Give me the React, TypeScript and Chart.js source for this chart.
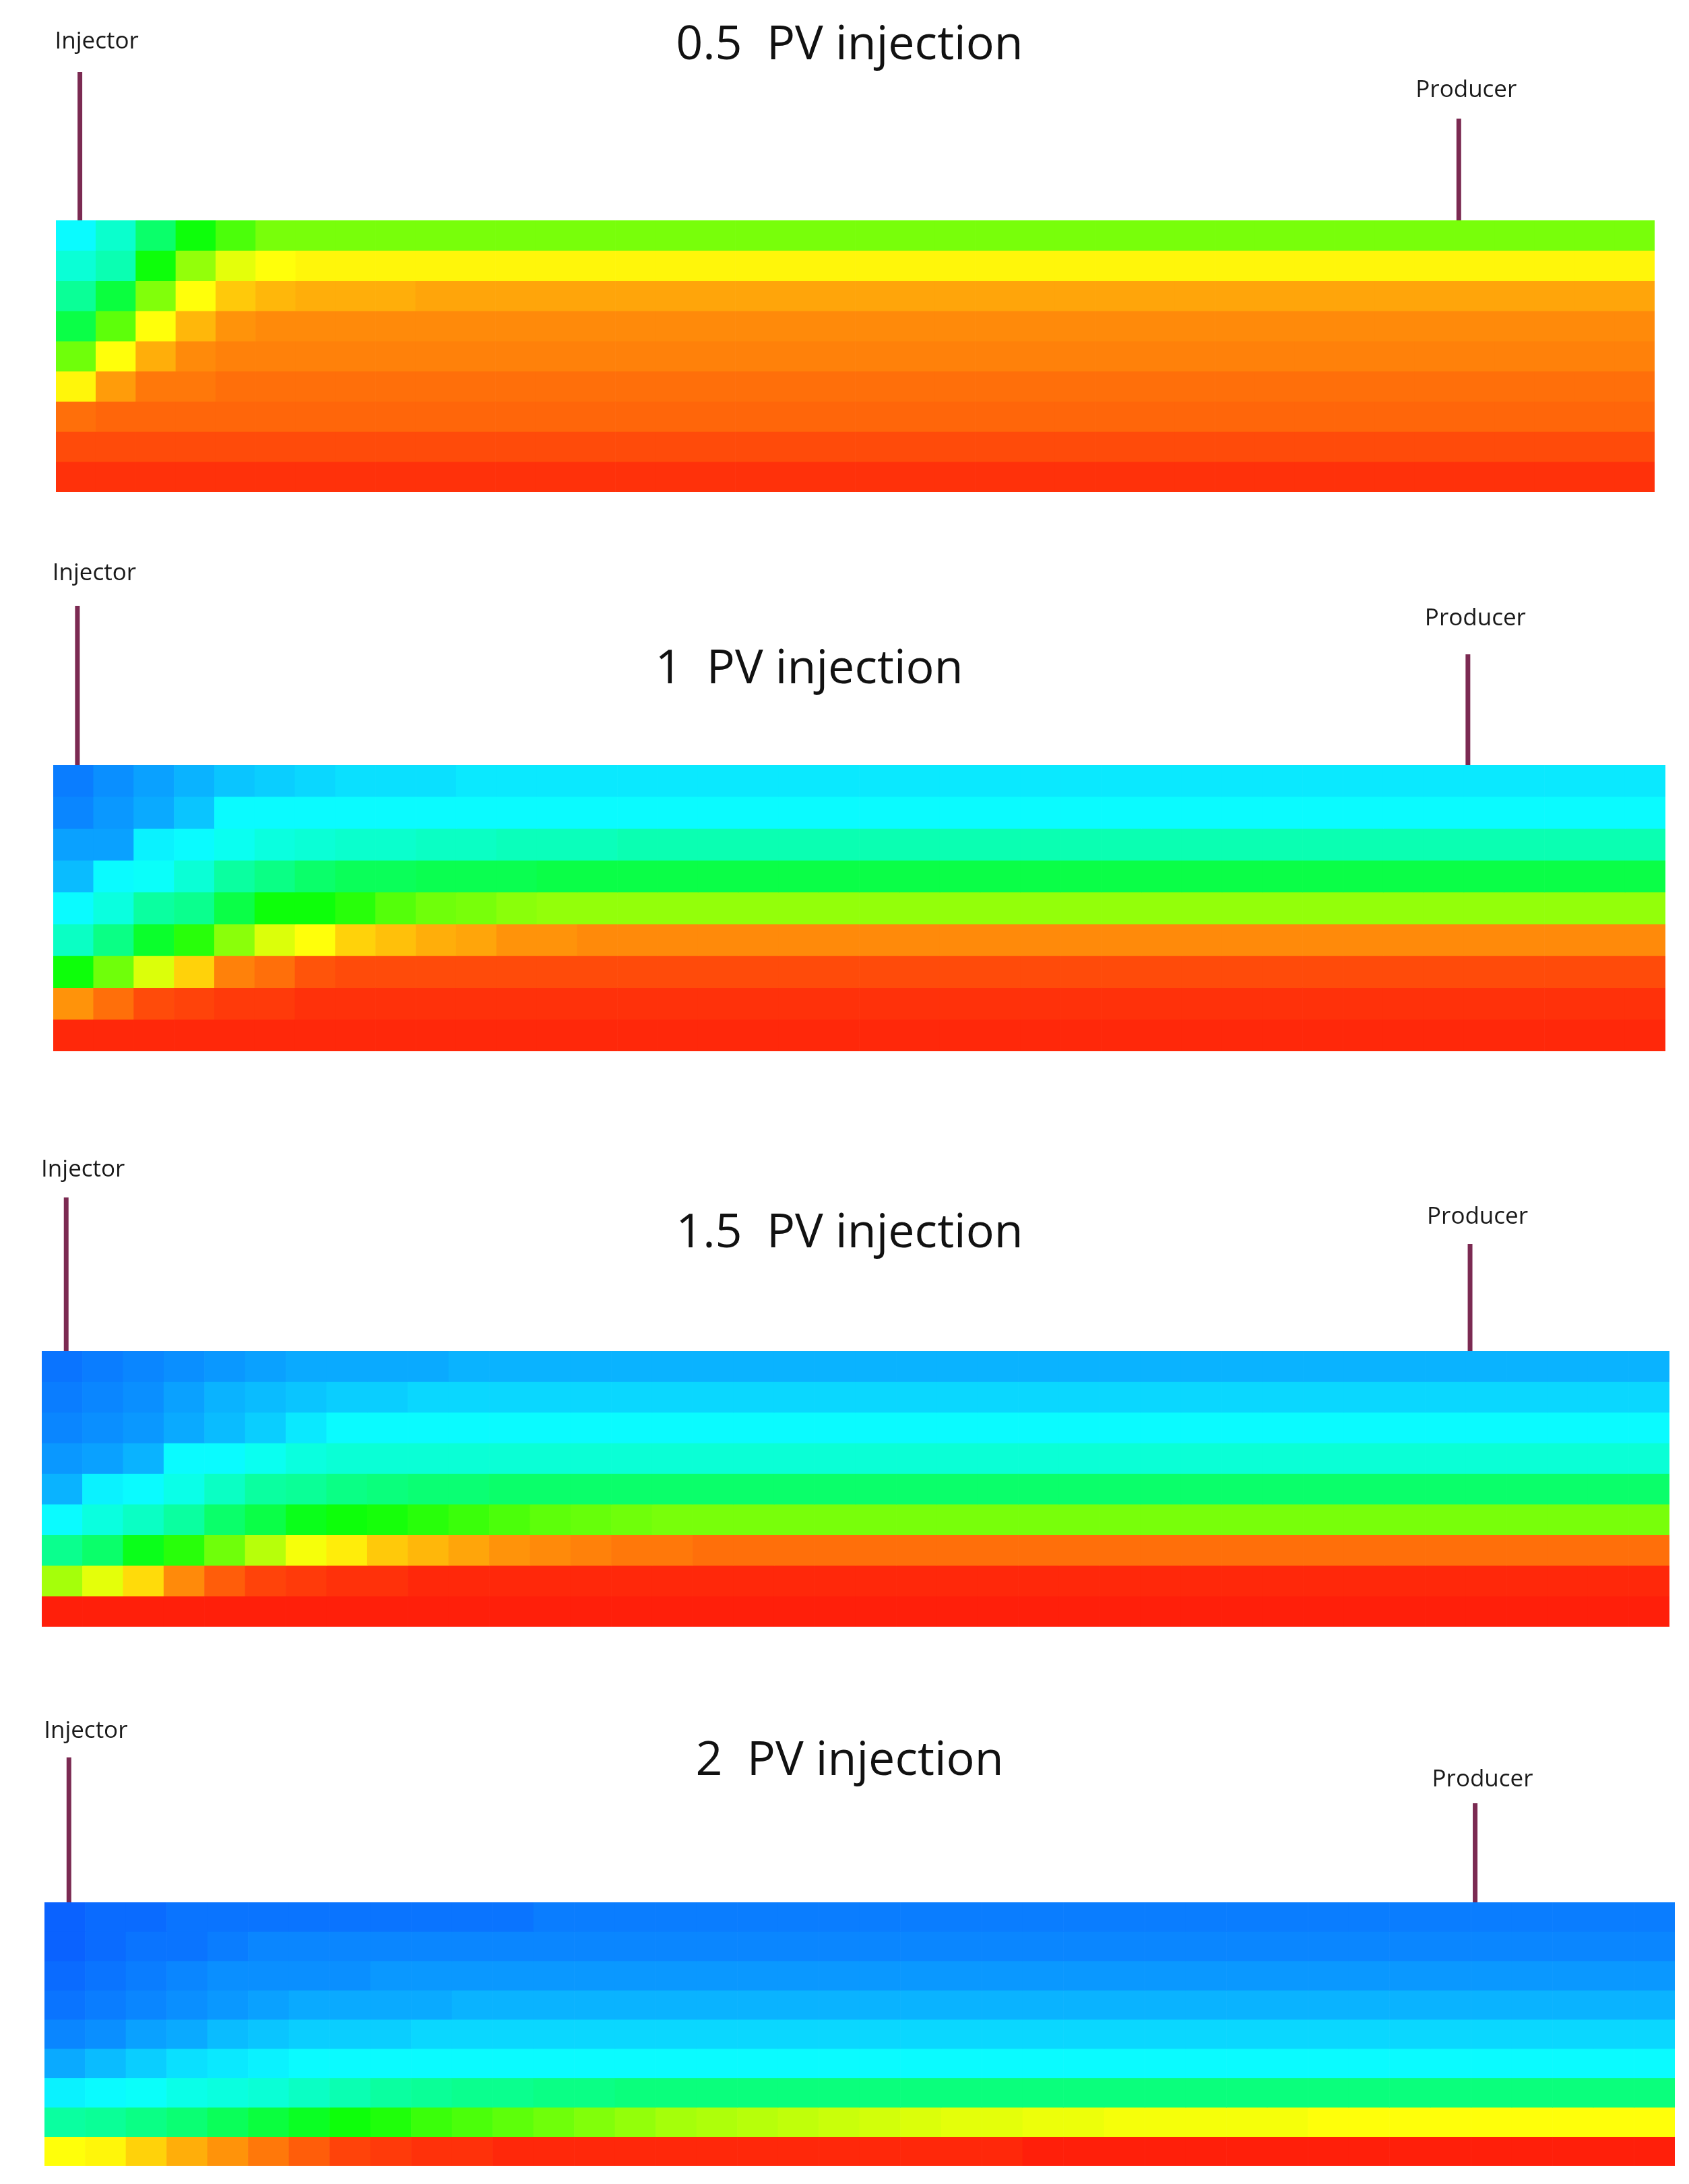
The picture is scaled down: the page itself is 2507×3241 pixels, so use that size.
import React, { useEffect, useRef } from "react";
import { Chart, registerables } from "chart.js";

Chart.register(...registerables);

// ---------------- DATA ----------------
// 40 grid columns (injector on the left, producer on the right), 9 layers (top to bottom)
const COLUMNS: string[] = [
  "1", "2", "3", "4", "5", "6", "7", "8", "9", "10",
  "11", "12", "13", "14", "15", "16", "17", "18", "19", "20",
  "21", "22", "23", "24", "25", "26", "27", "28", "29", "30",
  "31", "32", "33", "34", "35", "36", "37", "38", "39", "40",
];

const TITLES: string[] = ["0.5  PV injection", "1  PV injection", "1.5  PV injection", "2  PV injection"];

// well locations, in grid-cell units from the left edge of the model
const INJECTOR_POS = 0.6;
const PRODUCER_POS = 35.1;

// normalized property value per cell (0 = blue, 100 = red), rows = layers top -> bottom
const PV05_ROWS: number[][] = [
  [20, 26, 37, 48, 55, 60, 60, 60, 60, 60, 60, 60, 60, 60, 60, 60, 60, 60, 60, 60, 60, 60, 60, 60, 60, 60, 60, 60, 60, 60, 60, 60, 60, 60, 60, 60, 60, 60, 60, 60],
  [25, 29, 48, 63, 72, 75, 76, 76, 76, 76, 76, 76, 76, 76, 76, 76, 76, 76, 76, 76, 76, 76, 76, 76, 76, 76, 76, 76, 76, 76, 76, 76, 76, 76, 76, 76, 76, 76, 76, 76],
  [32, 42, 61, 75, 81, 83, 84, 84, 84, 85, 85, 85, 85, 85, 85, 85, 85, 85, 85, 85, 85, 85, 85, 85, 85, 85, 85, 85, 85, 85, 85, 85, 85, 85, 85, 85, 85, 85, 85, 85],
  [41, 57, 75, 83, 87, 88, 88, 88, 88, 88, 88, 88, 88, 88, 88, 88, 88, 88, 88, 88, 88, 88, 88, 88, 88, 88, 88, 88, 88, 88, 88, 88, 88, 88, 88, 88, 88, 88, 88, 88],
  [59, 75, 84, 88, 89, 89, 89, 89, 89, 89, 89, 89, 89, 89, 89, 89, 89, 89, 89, 89, 89, 89, 89, 89, 89, 89, 89, 89, 89, 89, 89, 89, 89, 89, 89, 89, 89, 89, 89, 89],
  [76, 86, 90, 90, 91, 91, 91, 91, 91, 91, 91, 91, 91, 91, 91, 91, 91, 91, 91, 91, 91, 91, 91, 91, 91, 91, 91, 91, 91, 91, 91, 91, 91, 91, 91, 91, 91, 91, 91, 91],
  [91, 92, 92, 92, 92, 92, 92, 92, 92, 92, 92, 92, 92, 92, 92, 92, 92, 92, 92, 92, 92, 92, 92, 92, 92, 92, 92, 92, 92, 92, 92, 92, 92, 92, 92, 92, 92, 92, 92, 92],
  [95, 95, 95, 95, 95, 95, 95, 95, 95, 95, 95, 95, 95, 95, 95, 95, 95, 95, 95, 95, 95, 95, 95, 95, 95, 95, 95, 95, 95, 95, 95, 95, 95, 95, 95, 95, 95, 95, 95, 95],
  [98, 98, 98, 98, 98, 98, 98, 98, 98, 98, 98, 98, 98, 98, 98, 98, 98, 98, 98, 98, 98, 98, 98, 98, 98, 98, 98, 98, 98, 98, 98, 98, 98, 98, 98, 98, 98, 98, 98, 98],
];

const PV1_ROWS: number[][] = [
  [6, 8, 10, 12, 14, 15, 16, 17, 17, 17, 18, 18, 18, 18, 18, 18, 18, 18, 18, 18, 18, 18, 18, 18, 18, 18, 18, 18, 18, 18, 18, 18, 18, 18, 18, 18, 18, 18, 18, 18],
  [7, 9, 11, 14, 20, 20, 20, 20, 20, 20, 20, 20, 20, 20, 20, 20, 20, 20, 20, 20, 20, 20, 20, 20, 20, 20, 20, 20, 20, 20, 20, 20, 20, 20, 20, 20, 20, 20, 20, 20],
  [10, 10, 19, 20, 22, 24, 25, 26, 26, 27, 27, 28, 28, 28, 29, 29, 29, 29, 29, 29, 29, 29, 29, 29, 29, 29, 29, 29, 29, 29, 29, 29, 29, 29, 29, 29, 29, 29, 29, 29],
  [13, 20, 21, 25, 31, 34, 37, 39, 39, 40, 40, 40, 41, 41, 41, 41, 41, 41, 41, 41, 41, 41, 41, 41, 41, 41, 41, 41, 41, 41, 41, 41, 41, 41, 41, 41, 41, 41, 41, 41],
  [20, 24, 31, 33, 41, 48, 48, 51, 56, 59, 60, 62, 63, 63, 63, 63, 63, 63, 63, 63, 63, 63, 63, 63, 63, 63, 63, 63, 63, 63, 63, 63, 63, 63, 63, 63, 63, 63, 63, 63],
  [27, 34, 44, 51, 62, 71, 75, 80, 82, 84, 85, 87, 87, 88, 88, 88, 88, 88, 88, 88, 88, 88, 88, 88, 88, 88, 88, 88, 88, 88, 88, 88, 88, 88, 88, 88, 88, 88, 88, 88],
  [48, 59, 71, 80, 89, 91, 94, 95, 95, 95, 95, 95, 95, 95, 95, 95, 95, 95, 95, 95, 95, 95, 95, 95, 95, 95, 95, 95, 95, 95, 95, 95, 95, 95, 95, 95, 95, 95, 95, 95],
  [87, 91, 95, 96, 97, 97, 98, 98, 98, 98, 98, 98, 98, 98, 98, 98, 98, 98, 98, 98, 98, 98, 98, 98, 98, 98, 98, 98, 98, 98, 98, 98, 98, 98, 98, 98, 98, 98, 98, 98],
  [99, 99, 99, 99, 99, 99, 99, 99, 99, 99, 99, 99, 99, 99, 99, 99, 99, 99, 99, 99, 99, 99, 99, 99, 99, 99, 99, 99, 99, 99, 99, 99, 99, 99, 99, 99, 99, 99, 99, 99],
];

const PV15_ROWS: number[][] = [
  [5, 6, 7, 8, 9, 10, 11, 11, 11, 11, 12, 12, 12, 12, 12, 12, 12, 12, 12, 12, 12, 12, 12, 12, 12, 12, 12, 12, 12, 12, 12, 12, 12, 12, 12, 12, 12, 12, 12, 12],
  [6, 7, 8, 10, 12, 13, 14, 15, 15, 16, 16, 16, 16, 16, 16, 16, 16, 16, 16, 16, 16, 16, 16, 16, 16, 16, 16, 16, 16, 16, 16, 16, 16, 16, 16, 16, 16, 16, 16, 16],
  [7, 8, 9, 11, 13, 15, 18, 20, 20, 20, 20, 20, 20, 20, 20, 20, 20, 20, 20, 20, 20, 20, 20, 20, 20, 20, 20, 20, 20, 20, 20, 20, 20, 20, 20, 20, 20, 20, 20, 20],
  [9, 10, 12, 20, 20, 22, 24, 25, 25, 25, 25, 25, 25, 25, 25, 25, 25, 25, 25, 25, 25, 25, 25, 25, 25, 25, 25, 25, 25, 25, 25, 25, 25, 25, 25, 25, 25, 25, 25, 25],
  [12, 19, 20, 23, 27, 31, 32, 34, 35, 36, 36, 37, 37, 37, 37, 37, 37, 37, 37, 37, 37, 37, 37, 37, 37, 37, 37, 37, 37, 37, 37, 37, 37, 37, 37, 37, 37, 37, 37, 37],
  [20, 24, 27, 31, 37, 41, 46, 48, 49, 51, 53, 55, 57, 58, 59, 60, 60, 60, 60, 60, 60, 60, 60, 60, 60, 60, 60, 60, 60, 60, 60, 60, 60, 60, 60, 60, 60, 60, 60, 60],
  [33, 37, 46, 51, 59, 67, 74, 77, 81, 83, 85, 87, 88, 89, 90, 90, 91, 91, 91, 91, 91, 91, 91, 91, 91, 91, 91, 91, 91, 91, 91, 91, 91, 91, 91, 91, 91, 91, 91, 91],
  [65, 72, 79, 88, 93, 96, 97, 98, 98, 99, 99, 99, 99, 99, 99, 99, 99, 99, 99, 99, 99, 99, 99, 99, 99, 99, 99, 99, 99, 99, 99, 99, 99, 99, 99, 99, 99, 99, 99, 99],
  [100, 100, 100, 100, 100, 100, 100, 100, 100, 100, 100, 100, 100, 100, 100, 100, 100, 100, 100, 100, 100, 100, 100, 100, 100, 100, 100, 100, 100, 100, 100, 100, 100, 100, 100, 100, 100, 100, 100, 100],
];

const PV2_ROWS: number[][] = [
  [3, 4, 4, 5, 5, 5, 5, 5, 5, 5, 5, 5, 6, 6, 6, 6, 6, 6, 6, 6, 6, 6, 6, 6, 6, 6, 6, 6, 6, 6, 6, 6, 6, 6, 6, 6, 6, 6, 6, 6],
  [3, 4, 5, 5, 6, 7, 7, 7, 7, 7, 7, 7, 7, 7, 7, 7, 7, 7, 7, 7, 7, 7, 7, 7, 7, 7, 7, 7, 7, 7, 7, 7, 7, 7, 7, 7, 7, 7, 7, 7],
  [4, 5, 6, 7, 8, 8, 8, 8, 9, 9, 9, 9, 9, 9, 9, 9, 9, 9, 9, 9, 9, 9, 9, 9, 9, 9, 9, 9, 9, 9, 9, 9, 9, 9, 9, 9, 9, 9, 9, 9],
  [5, 6, 7, 8, 9, 10, 11, 11, 11, 11, 12, 12, 12, 12, 12, 12, 12, 12, 12, 12, 12, 12, 12, 12, 12, 12, 12, 12, 12, 12, 12, 12, 12, 12, 12, 12, 12, 12, 12, 12],
  [7, 8, 10, 11, 13, 14, 15, 15, 15, 16, 16, 16, 16, 16, 16, 16, 16, 16, 16, 16, 16, 16, 16, 16, 16, 16, 16, 16, 16, 16, 16, 16, 16, 16, 16, 16, 16, 16, 16, 16],
  [11, 13, 15, 17, 18, 19, 20, 20, 20, 20, 20, 20, 20, 20, 20, 20, 20, 20, 20, 20, 20, 20, 20, 20, 20, 20, 20, 20, 20, 20, 20, 20, 20, 20, 20, 20, 20, 20, 20, 20],
  [19, 20, 21, 23, 24, 25, 27, 29, 31, 32, 33, 33, 34, 34, 35, 35, 35, 35, 35, 35, 35, 35, 35, 35, 35, 35, 35, 35, 35, 35, 35, 35, 35, 35, 35, 35, 35, 35, 35, 35],
  [31, 32, 34, 36, 39, 42, 45, 48, 50, 53, 55, 57, 59, 61, 63, 65, 66, 67, 68, 69, 70, 71, 72, 72, 73, 73, 74, 74, 74, 74, 74, 75, 75, 75, 75, 75, 75, 75, 75, 75],
  [75, 76, 80, 84, 87, 90, 93, 96, 97, 98, 98, 99, 99, 99, 99, 99, 99, 99, 99, 99, 99, 99, 99, 99, 100, 100, 100, 100, 100, 100, 100, 100, 100, 100, 100, 100, 100, 100, 100, 100],
];

const PANEL_ROWS: number[][][] = [PV05_ROWS, PV1_ROWS, PV15_ROWS, PV2_ROWS];

// ---------------- LAYOUT / STYLE ----------------
const PAGE_W = 2507;
const PAGE_H = 3241;

type PanelLayout = {
  top: number; height: number;
  pad: { left: number; right: number; top: number; bottom: number };
  titleX: number; titleY: number;
  injLabelY: number; injLineTop: number;
  prodLabelY: number; prodLineTop: number;
};

const LAYOUTS: PanelLayout[] = [
  { top: 0, height: 790, pad: { left: 83, right: 51, top: 327, bottom: 60 }, titleX: 1261, titleY: 68, injLabelY: 62, injLineTop: 107, prodLabelY: 134, prodLineTop: 176 },
  { top: 790, height: 850, pad: { left: 79, right: 35, top: 345, bottom: 80 }, titleX: 1201, titleY: 204, injLabelY: 61, injLineTop: 109, prodLabelY: 128, prodLineTop: 181 },
  { top: 1640, height: 830, pad: { left: 62, right: 29, top: 365, bottom: 56 }, titleX: 1261, titleY: 191, injLabelY: 96, injLineTop: 137, prodLabelY: 166, prodLineTop: 206 },
  { top: 2470, height: 771, pad: { left: 66, right: 21, top: 353, bottom: 27 }, titleX: 1261, titleY: 144, injLabelY: 99, injLineTop: 138, prodLabelY: 171, prodLineTop: 206 },
];

const colorFor = (v: number) => `hsl(${225 - 2.2 * v}, 100%, 52%)`;

function Panel({ index }: { index: number }) {
  const ref = useRef<HTMLCanvasElement | null>(null);
  const lay = LAYOUTS[index];

  useEffect(() => {
    const rows = PANEL_ROWS[index];
    const title = TITLES[index];

    const wellPlugin = {
      id: "wells",
      afterDraw(chart: any) {
        const { ctx, chartArea, scales } = chart;
        const px = (pos: number) => scales.x.getPixelForValue(pos - 0.5);
        ctx.save();
        ctx.textAlign = "center";
        ctx.textBaseline = "middle";
        ctx.fillStyle = "#111111";
        ctx.font = '70px "Open Sans"';
        ctx.fillText(title, lay.titleX, lay.titleY);

        const wells = [
          { name: "Injector", pos: INJECTOR_POS, labelY: lay.injLabelY, lineTop: lay.injLineTop, dx: 25 },
          { name: "Producer", pos: PRODUCER_POS, labelY: lay.prodLabelY, lineTop: lay.prodLineTop, dx: 11 },
        ];
        for (const w of wells) {
          const wx = px(w.pos);
          ctx.strokeStyle = "#7b2a52";
          ctx.lineWidth = 7;
          ctx.lineCap = "butt";
          ctx.beginPath();
          ctx.moveTo(wx, w.lineTop);
          ctx.lineTo(wx, chartArea.top);
          ctx.stroke();
          ctx.fillStyle = "#1a1a1a";
          ctx.font = '35px "Open Sans"';
          ctx.fillText(w.name, wx + w.dx, w.labelY);
        }
        ctx.restore();
      },
    };

    const chart = new Chart(ref.current as HTMLCanvasElement, {
      type: "bar",
      data: {
        labels: COLUMNS,
        datasets: rows.map((row, r) => ({
          label: `Layer ${r + 1}`,
          data: row.map(() => 1),
          backgroundColor: row.map(colorFor),
          borderWidth: 0,
          barPercentage: 1,
          categoryPercentage: 1,
          stack: "layers",
        })),
      },
      options: {
        animation: false,
        responsive: false,
        layout: { padding: lay.pad },
        plugins: {
          legend: { display: false },
          tooltip: { enabled: false },
          title: { display: false },
        },
        scales: {
          x: { display: false, stacked: true, grid: { display: false } },
          y: { display: false, stacked: true, reverse: true, min: 0, max: rows.length, grid: { display: false } },
        },
      },
      plugins: [wellPlugin],
    });
    return () => chart.destroy();
  }, [index]);

  return (
    <canvas
      ref={ref}
      width={PAGE_W}
      height={lay.height}
      style={{ position: "absolute", left: 0, top: lay.top, display: "block" }}
    />
  );
}

export default function App() {
  return (
    <div style={{ position: "absolute", left: 0, top: 0, width: PAGE_W, height: PAGE_H, background: "#ffffff", overflow: "hidden" }}>
      {LAYOUTS.map((_, i) => (
        <Panel key={i} index={i} />
      ))}
    </div>
  );
}
